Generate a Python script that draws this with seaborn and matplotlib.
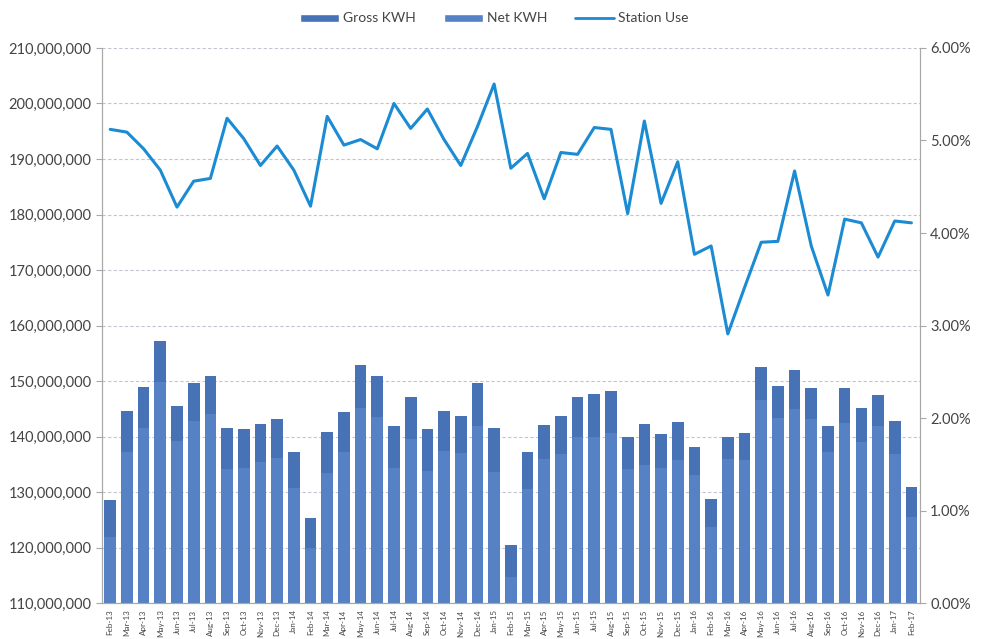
import numpy as np
import pandas as pd
import matplotlib
matplotlib.use("Agg")
import matplotlib.pyplot as plt
import seaborn as sns
from matplotlib.ticker import FuncFormatter, MultipleLocator
from matplotlib.patches import Patch
from matplotlib.lines import Line2D

# ---------- Data ----------

months = [
    "Feb-13", "Mar-13", "Apr-13", "May-13", "Jun-13", "Jul-13", "Aug-13", "Sep-13",
    "Oct-13", "Nov-13", "Dec-13", "Jan-14", "Feb-14", "Mar-14", "Apr-14", "May-14",
    "Jun-14", "Jul-14", "Aug-14", "Sep-14", "Oct-14", "Nov-14", "Dec-14", "Jan-15",
    "Feb-15", "Mar-15", "Apr-15", "May-15", "Jun-15", "Jul-15", "Aug-15", "Sep-15",
    "Oct-15", "Nov-15", "Dec-15", "Jan-16", "Feb-16", "Mar-16", "Apr-16", "May-16",
    "Jun-16", "Jul-16", "Aug-16", "Sep-16", "Oct-16", "Nov-16", "Dec-16", "Jan-17",
    "Feb-17",
]

# millions of kWh
gross_kwh = [
    128.6, 144.7, 148.9, 157.2, 145.5, 149.6, 151.0, 141.6,
    141.4, 142.2, 143.2, 137.2, 125.3, 140.8, 144.4, 152.9,
    150.9, 142.0, 147.1, 141.3, 144.7, 143.8, 149.7, 141.6,
    120.4, 137.3, 142.1, 143.8, 147.1, 147.6, 148.2, 140.0,
    142.3, 140.5, 142.6, 138.2, 128.8, 140.0, 140.6, 152.6,
    149.1, 152.0, 148.8, 141.9, 148.7, 145.1, 147.5, 142.8,
    131.0,
]

net_kwh = [
    122.0, 137.3, 141.6, 149.8, 139.3, 142.8, 144.1, 134.2,
    134.3, 135.5, 136.1, 130.8, 119.9, 133.4, 137.3, 145.2,
    143.5, 134.3, 139.6, 133.8, 137.4, 137.0, 142.0, 133.7,
    114.7, 130.6, 135.9, 136.8, 140.0, 140.0, 140.6, 134.1,
    134.9, 134.4, 135.8, 133.0, 123.8, 135.9, 135.8, 146.6,
    143.3, 144.9, 143.1, 137.2, 142.5, 139.1, 142.0, 136.9,
    125.6,
]

# percent
station_use = [
    5.12, 5.09, 4.91, 4.68, 4.28, 4.56, 4.59, 5.24,
    5.02, 4.73, 4.94, 4.68, 4.29, 5.26, 4.95, 5.01,
    4.91, 5.40, 5.13, 5.34, 5.01, 4.73, 5.15, 5.61,
    4.70, 4.86, 4.37, 4.87, 4.85, 5.14, 5.12, 4.21,
    5.21, 4.32, 4.77, 3.77, 3.86, 2.91, 3.41, 3.90,
    3.91, 4.67, 3.86, 3.33, 4.15, 4.11, 3.74, 4.13,
    4.11,
]

df = pd.DataFrame({
    "month": months,
    "gross": np.array(gross_kwh) * 1e6,
    "net": np.array(net_kwh) * 1e6,
    "station": np.array(station_use) / 100,
    "pos": np.arange(len(months)),
})

# ---------- Plot ----------

sns.set_style("white")
plt.rcParams["font.family"] = ["Lato", "DejaVu Sans"]

gross_color = "#4872b6"
net_color = "#5681c4"
line_color = "#1b8bd3"
text_color = "#444444"
spine_color = "#a8a8a8"

fig, ax = plt.subplots(figsize=(9.89, 6.39), dpi=100)
fig.subplots_adjust(left=0.103, right=0.930, top=0.925, bottom=0.056)

sns.barplot(data=df, x="month", y="gross", color=gross_color, width=0.7,
            saturation=1, linewidth=0, ax=ax, zorder=2)
sns.barplot(data=df, x="month", y="net", color=net_color, width=0.7,
            saturation=1, linewidth=0, ax=ax, zorder=3)

ax.set_ylim(110_000_000, 210_000_000)
ax.set_xlim(-0.5, len(months) - 0.5)
ax.yaxis.set_major_locator(MultipleLocator(10_000_000))
ax.yaxis.set_major_formatter(FuncFormatter(lambda v, p: f"{v:,.0f}"))
ax.grid(axis="y", color="#c4c4d2", linestyle=(0, (3, 2)), linewidth=0.8, zorder=0)
ax.set_axisbelow(True)
ax.set_xlabel("")
ax.set_ylabel("")
ax.tick_params(axis="x", labelrotation=90, labelsize=5.8, colors=text_color,
               length=3, color=spine_color, pad=1.5)
ax.tick_params(axis="y", labelsize=10.5, colors=text_color, length=4,
               color=spine_color, left=True)

ax2 = ax.twinx()
sns.lineplot(data=df, x="pos", y="station", color=line_color, linewidth=2.2,
             ax=ax2, zorder=4)
ax2.set_ylim(0, 0.06)
ax2.yaxis.set_major_locator(MultipleLocator(0.01))
ax2.yaxis.set_major_formatter(FuncFormatter(lambda v, p: f"{v * 100:.2f}%"))
ax2.set_ylabel("")
ax2.set_xlabel("")
ax2.tick_params(axis="y", labelsize=10.5, colors=text_color, length=4,
                color=spine_color, right=True)

for a in (ax, ax2):
    a.spines["top"].set_visible(False)
    for s in ("left", "right", "bottom"):
        a.spines[s].set_color(spine_color)
        a.spines[s].set_linewidth(0.8)

handles = [
    Patch(facecolor=gross_color, label="Gross KWH"),
    Patch(facecolor=net_color, label="Net KWH"),
    Line2D([0], [0], color=line_color, linewidth=2, label="Station Use"),
]
fig.legend(handles=handles, loc="upper center", bbox_to_anchor=(0.5, 1.0),
           ncol=3, frameon=False, fontsize=10, labelcolor=text_color,
           handlelength=2.8, handleheight=0.5, columnspacing=2.0,
           handletextpad=0.3)

fig.savefig("out.png", dpi=100)
